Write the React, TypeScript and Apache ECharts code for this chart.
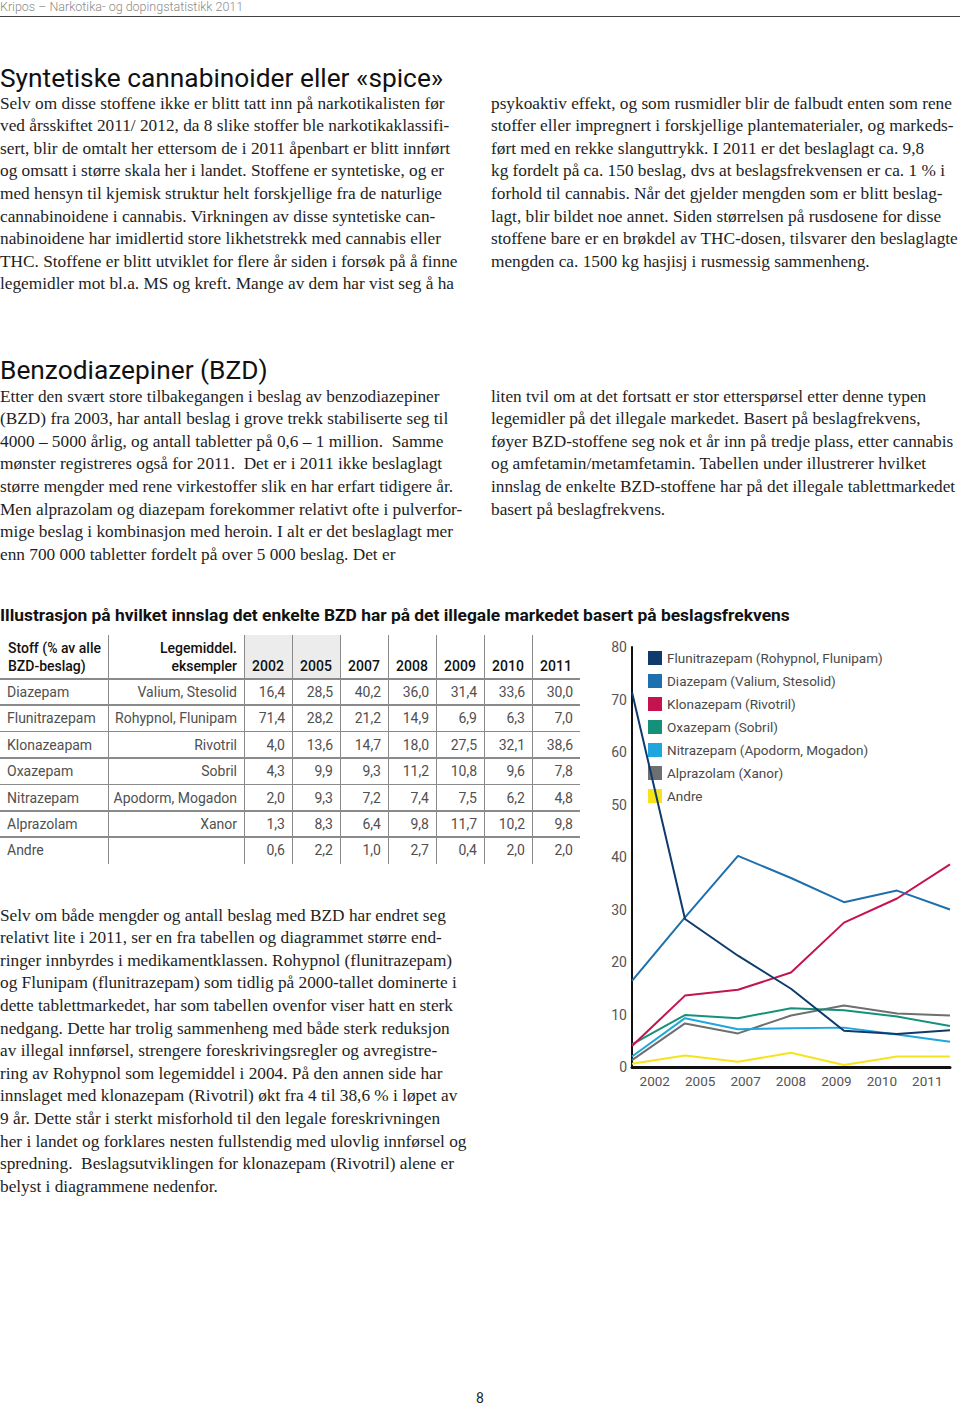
import React, { useEffect, useRef } from "react";
import * as echarts from "echarts";

const years = ["2002", "2005", "2007", "2008", "2009", "2010", "2011"];
const substances = ["Diazepam", "Flunitrazepam", "Klonazeapam", "Oxazepam", "Nitrazepam", "Alprazolam", "Andre"];
const brands = ["Valium, Stesolid", "Rohypnol, Flunipam", "Rivotril", "Sobril", "Apodorm, Mogadon", "Xanor", ""];
const diazepam = [16.4, 28.5, 40.2, 36.0, 31.4, 33.6, 30.0];
const flunitrazepam = [71.4, 28.2, 21.2, 14.9, 6.9, 6.3, 7.0];
const klonazepam = [4.0, 13.6, 14.7, 18.0, 27.5, 32.1, 38.6];
const oxazepam = [4.3, 9.9, 9.3, 11.2, 10.8, 9.6, 7.8];
const nitrazepam = [2.0, 9.3, 7.2, 7.4, 7.5, 6.2, 4.8];
const alprazolam = [1.3, 8.3, 6.4, 9.8, 11.7, 10.2, 9.8];
const andre = [0.6, 2.2, 1.0, 2.7, 0.4, 2.0, 2.0];
const tableRows = [diazepam, flunitrazepam, klonazepam, oxazepam, nitrazepam, alprazolam, andre];

const legendNames = [
  "Flunitrazepam (Rohypnol, Flunipam)",
  "Diazepam (Valium, Stesolid)",
  "Klonazepam (Rivotril)",
  "Oxazepam (Sobril)",
  "Nitrazepam (Apodorm, Mogadon)",
  "Alprazolam (Xanor)",
  "Andre",
];
const chartSeries = [flunitrazepam, diazepam, klonazepam, oxazepam, nitrazepam, alprazolam, andre];
const colors = ["#0e3a6c", "#1d6fad", "#c4134f", "#15917a", "#1fa6df", "#6e6f71", "#f5e41c"];
const yTicks = [0, 10, 20, 30, 40, 50, 60, 70, 80];

const text1L = [
  "Selv om disse stoffene ikke er blitt tatt inn på narkotikalisten før",
  "ved årsskiftet 2011/ 2012, da 8 slike stoffer ble narkotikaklassifi-",
  "sert, blir de omtalt her ettersom de i 2011 åpenbart er blitt innført",
  "og omsatt i større skala her i landet. Stoffene er syntetiske, og er",
  "med hensyn til kjemisk struktur helt forskjellige fra de naturlige",
  "cannabinoidene i cannabis. Virkningen av disse syntetiske can-",
  "nabinoidene har imidlertid store likhetstrekk med cannabis eller",
  "THC. Stoffene er blitt utviklet for flere år siden i forsøk på å finne",
  "legemidler mot bl.a. MS og kreft. Mange av dem har vist seg å ha",
];
const text1R = [
  "psykoaktiv effekt, og som rusmidler blir de falbudt enten som rene",
  "stoffer eller impregnert i forskjellige plantematerialer, og markeds-",
  "ført med en rekke slanguttrykk. I 2011 er det beslaglagt ca. 9,8",
  "kg fordelt på ca. 150 beslag, dvs at beslagsfrekvensen er ca. 1 % i",
  "forhold til cannabis. Når det gjelder mengden som er blitt beslag-",
  "lagt, blir bildet noe annet. Siden størrelsen på rusdosene for disse",
  "stoffene bare er en brøkdel av THC-dosen, tilsvarer den beslaglagte",
  "mengden ca. 1500 kg hasjisj i rusmessig sammenheng.",
];
const text2L = [
  "Etter den svært store tilbakegangen i beslag av benzodiazepiner",
  "(BZD) fra 2003, har antall beslag i grove trekk stabiliserte seg til",
  "4000 – 5000 årlig, og antall tabletter på 0,6 – 1 million.  Samme",
  "mønster registreres også for 2011.  Det er i 2011 ikke beslaglagt",
  "større mengder med rene virkestoffer slik en har erfart tidigere år.",
  "Men alprazolam og diazepam forekommer relativt ofte i pulverfor-",
  "mige beslag i kombinasjon med heroin. I alt er det beslaglagt mer",
  "enn 700 000 tabletter fordelt på over 5 000 beslag. Det er",
];
const text2R = [
  "liten tvil om at det fortsatt er stor etterspørsel etter denne typen",
  "legemidler på det illegale markedet. Basert på beslagfrekvens,",
  "føyer BZD-stoffene seg nok et år inn på tredje plass, etter cannabis",
  "og amfetamin/metamfetamin. Tabellen under illustrerer hvilket",
  "innslag de enkelte BZD-stoffene har på det illegale tablettmarkedet",
  "basert på beslagfrekvens.",
];
const text3 = [
  "Selv om både mengder og antall beslag med BZD har endret seg",
  "relativt lite i 2011, ser en fra tabellen og diagrammet større end-",
  "ringer innbyrdes i medikamentklassen. Rohypnol (flunitrazepam)",
  "og Flunipam (flunitrazepam) som tidlig på 2000-tallet dominerte i",
  "dette tablettmarkedet, har som tabellen ovenfor viser hatt en sterk",
  "nedgang. Dette har trolig sammenheng med både sterk reduksjon",
  "av illegal innførsel, strengere foreskrivingsregler og avregistre-",
  "ring av Rohypnol som legemiddel i 2004. På den annen side har",
  "innslaget med klonazepam (Rivotril) økt fra 4 til 38,6 % i løpet av",
  "9 år. Dette står i sterkt misforhold til den legale foreskrivningen",
  "her i landet og forklares nesten fullstendig med ulovlig innførsel og",
  "spredning.  Beslagsutviklingen for klonazepam (Rivotril) alene er",
  "belyst i diagrammene nedenfor.",
];

const SERIF = '"Liberation Serif", "DejaVu Serif", serif';
const SANS = 'Roboto, "Noto Sans", sans-serif';
const LH = 22.6;

function Para({ lines, left, firstCenter }: { lines: string[]; left: number; firstCenter: number }) {
  return (
    <div
      style={{
        position: "absolute",
        left,
        top: firstCenter - LH / 2,
        fontFamily: SERIF,
        fontSize: 17.3,
        lineHeight: LH + "px",
        color: "#1e1e1e",
        whiteSpace: "pre",
      }}
    >
      {lines.map((l, i) => (
        <div key={i}>{l}</div>
      ))}
    </div>
  );
}

const colX = [0, 108, 244, 292, 340, 388, 436, 484, 532, 580];
const tTop = 635;
const hBottom = 679;
const rowH = 26.4;

function fmt(v: number) {
  return v.toFixed(1).replace(".", ",");
}

function Table() {
  const els: any[] = [];
  els.push(
    <div key="shade" style={{ position: "absolute", left: colX[2], top: tTop, width: colX[4] - colX[2], height: hBottom - tTop, background: "#ececec" }} />
  );
  for (let i = 1; i <= 8; i++) {
    els.push(
      <div key={"v" + i} style={{ position: "absolute", left: colX[i], top: tTop, width: 1, height: hBottom + rowH * 7 - tTop, background: "#8a8a8a" }} />
    );
  }
  for (let r = 0; r < 7; r++) {
    els.push(
      <div key={"h" + r} style={{ position: "absolute", left: 0, top: hBottom + rowH * r - 1, width: colX[9], height: 1.5, background: "#8a8a8a" }} />
    );
  }
  const hdr: any = { position: "absolute", fontFamily: SANS, fontWeight: 500, fontSize: 14, color: "#111", lineHeight: "18px", whiteSpace: "pre" };
  els.push(
    <div key="h1" style={{ ...hdr, left: 8, top: 639 }}>
      {"Stoff (% av alle\nBZD-beslag)"}
    </div>
  );
  els.push(
    <div key="h2" style={{ ...hdr, left: colX[1], width: colX[2] - colX[1] - 7, textAlign: "right", top: 639 }}>
      {"Legemiddel.\neksempler"}
    </div>
  );
  years.forEach((y, j) => {
    els.push(
      <div key={"y" + j} style={{ ...hdr, left: colX[j + 2], width: colX[j + 3] - colX[j + 2], textAlign: "center", top: 657 }}>
        {y}
      </div>
    );
  });
  const cell: any = { position: "absolute", fontFamily: SANS, fontSize: 14, color: "#505050", lineHeight: rowH + "px", whiteSpace: "pre" };
  substances.forEach((s, r) => {
    const top = hBottom + rowH * r;
    els.push(<div key={"s" + r} style={{ ...cell, left: 7, top }}>{s}</div>);
    els.push(
      <div key={"b" + r} style={{ ...cell, left: colX[1], width: colX[2] - colX[1] - 7, textAlign: "right", top }}>
        {brands[r]}
      </div>
    );
    tableRows[r].forEach((v, j) => {
      els.push(
        <div key={"c" + r + "_" + j} style={{ ...cell, left: colX[j + 2], width: colX[j + 3] - colX[j + 2] - 7, textAlign: "right", top }}>
          {fmt(v)}
        </div>
      );
    });
  });
  return <>{els}</>;
}

function Chart() {
  const ref = useRef<HTMLDivElement>(null);
  useEffect(() => {
    if (!ref.current) return;
    const chart = echarts.init(ref.current, null, { renderer: "svg" });
    chart.setOption({
      animation: false,
      textStyle: { fontFamily: SANS },
      grid: { left: 42, right: 10, top: 17, bottom: 23 },
      legend: {
        orient: "vertical",
        left: 53,
        top: 16,
        icon: "rect",
        itemWidth: 14,
        itemHeight: 14,
        itemGap: 9,
        data: legendNames,
        textStyle: { fontSize: 13.5, color: "#4a4a4a", fontFamily: SANS },
      },
      xAxis: [
        {
          type: "category",
          data: years,
          boundaryGap: false,
          position: "bottom",
          axisLine: { show: false },
          axisTick: { show: false },
          axisLabel: { show: false },
          splitLine: { show: false },
        },
        {
          type: "category",
          data: years,
          boundaryGap: true,
          position: "bottom",
          axisLine: { show: true, lineStyle: { color: "#111", width: 3 } },
          axisTick: { show: false },
          axisLabel: { fontSize: 13.5, color: "#555", margin: 7, fontFamily: SANS },
          splitLine: { show: false },
        },
      ],
      yAxis: {
        type: "value",
        min: yTicks[0],
        max: yTicks[yTicks.length - 1],
        interval: 10,
        axisLine: { show: true, lineStyle: { color: "#111", width: 2 } },
        axisTick: { show: false },
        splitLine: { show: false },
        axisLabel: { fontSize: 14, color: "#555", margin: 5, fontFamily: SANS },
      },
      series: chartSeries.map((d, i) => ({
        name: legendNames[i],
        type: "line",
        xAxisIndex: 0,
        data: d,
        symbol: "none",
        lineStyle: { width: 2, color: colors[i] },
        itemStyle: { color: colors[i] },
        z: 2 + (6 - i),
      })),
    });
    return () => chart.dispose();
  }, []);
  return <div ref={ref} style={{ position: "absolute", left: 590, top: 630, width: 370, height: 460 }} />;
}

export default function App() {
  return (
    <div style={{ position: "absolute", left: 0, top: 0, width: 960, height: 1408, background: "#fff", overflow: "hidden" }}>
      <div style={{ position: "absolute", left: 0, top: -1, fontFamily: SANS, fontWeight: 300, fontSize: 12.5, color: "#8a8a8a", lineHeight: "16px" }}>
        Kripos – Narkotika- og dopingstatistikk 2011
      </div>
      <div style={{ position: "absolute", left: 0, top: 16, width: 960, height: 1, background: "#444" }} />
      <div style={{ position: "absolute", left: 0, top: 62, fontFamily: SANS, fontSize: 26.3, color: "#111", lineHeight: "32px", whiteSpace: "pre" }}>
        Syntetiske cannabinoider eller «spice»
      </div>
      <Para lines={text1L} left={0} firstCenter={104} />
      <Para lines={text1R} left={491} firstCenter={104} />
      <div style={{ position: "absolute", left: 0, top: 354, fontFamily: SANS, fontSize: 26.3, color: "#111", lineHeight: "32px", whiteSpace: "pre" }}>
        Benzodiazepiner (BZD)
      </div>
      <Para lines={text2L} left={0} firstCenter={397} />
      <Para lines={text2R} left={491} firstCenter={397} />
      <div style={{ position: "absolute", left: 0, top: 604, fontFamily: SANS, fontWeight: 700, fontSize: 17.4, color: "#111", lineHeight: "22px", whiteSpace: "pre" }}>
        Illustrasjon på hvilket innslag det enkelte BZD har på det illegale markedet basert på beslagsfrekvens
      </div>
      <Table />
      <Chart />
      <Para lines={text3} left={0} firstCenter={916} />
      <div style={{ position: "absolute", left: 470, top: 1389, width: 20, textAlign: "center", fontFamily: SANS, fontSize: 14, color: "#222", lineHeight: "18px" }}>
        8
      </div>
    </div>
  );
}
